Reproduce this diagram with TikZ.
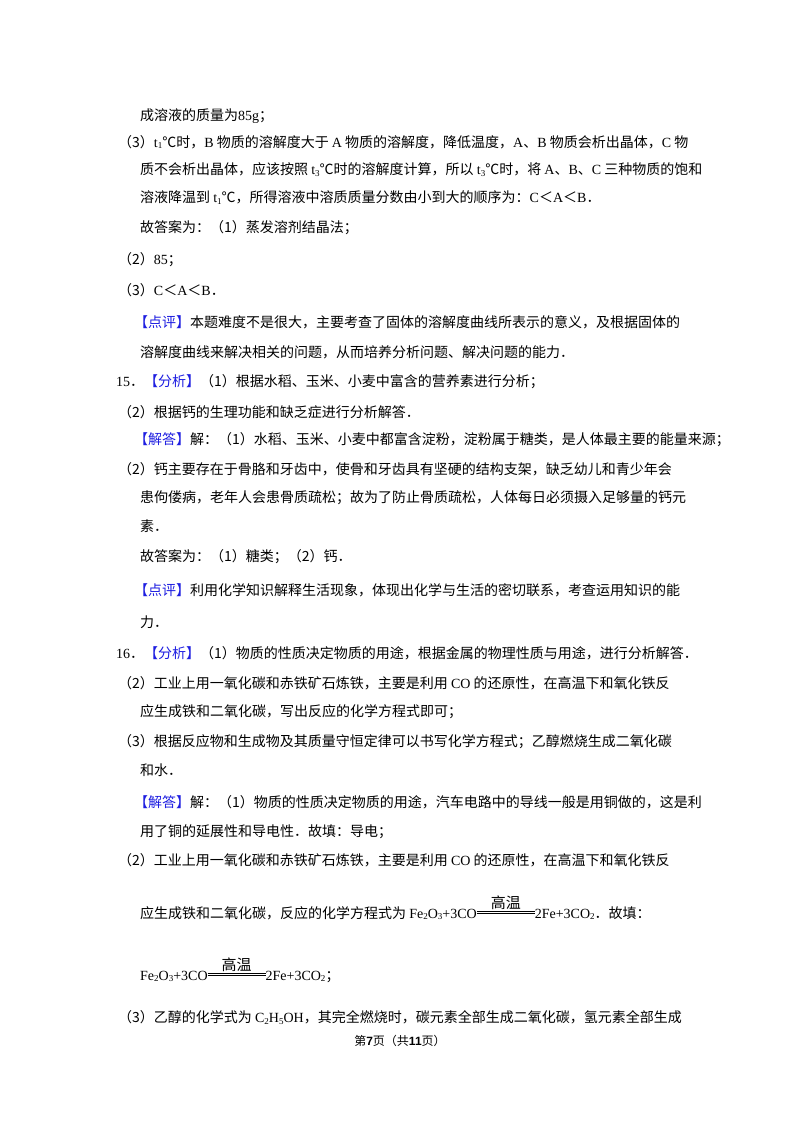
\documentclass[tikz,border=0pt]{standalone}
\usepackage{fontspec}
\setmainfont{Noto Sans CJK SC}
\newfontfamily\enf{Liberation Serif}
\newfontfamily\ftf{Liberation Sans}
\newcommand\en[1]{{\enf #1}}
\newcommand\sub[1]{\raisebox{-0.3ex}{\fontsize{9}{9}\selectfont #1}}
\definecolor{kb}{RGB}{30,30,225}
\newcommand\kw[1]{\textcolor{kb}{#1}}
\newcommand\gw{\raisebox{0.28em}{\vbox{\hbox to 58pt{\hss{\fontsize{15}{15}\selectfont 高温}\hss}\kern1.5pt\hrule height .7pt width 58pt\kern1.3pt\hrule height .7pt width 58pt}}}
\newcommand\feo{\en{Fe\sub2O\sub3+3CO}\gw\en{2Fe+3CO\sub2}}
\begin{document}
\begin{tikzpicture}[x=1pt,y=-1pt,
  ln/.style={anchor=west,inner sep=0pt,font=\fontsize{14}{14}\selectfont}]
\useasboundingbox[fill=white] (0,0) rectangle (800,1132);
\node[ln] (l1) at (140,116) {成溶液的质量为\en{85g}；};
\node[ln] (l2) at (118,142) {（3）\en{t\sub1}℃时，\en{B} 物质的溶解度大于 \en{A} 物质的溶解度，降低温度，\en{A}、\en{B} 物质会析出晶体，\en{C} 物};
\node[ln] (l3) at (140,170) {质不会析出晶体，应该按照 \en{t\sub3}℃时的溶解度计算，所以 \en{t\sub3}℃时，将 \en{A}、\en{B}、\en{C} 三种物质的饱和};
\node[ln] (l4) at (140,198) {溶液降温到 \en{t\sub1}℃，所得溶液中溶质质量分数由小到大的顺序为：\en{C}＜\en{A}＜\en{B}．};
\node[ln] (l5) at (140,228) {故答案为：（1）蒸发溶剂结晶法；};
\node[ln] (l6) at (118,260) {（2）\en{85}；};
\node[ln] (l7) at (118,290) {（3）\en{C}＜\en{A}＜\en{B}．};
\node[ln] (l8) at (134,322) {\kw{【点评】}本题难度不是很大，主要考查了固体的溶解度曲线所表示的意义，及根据固体的};
\node[ln] (l9) at (140,352) {溶解度曲线来解决相关的问题，从而培养分析问题、解决问题的能力．};
\node[ln] (l10) at (116,382) {\en{15}．\kw{【分析】}（1）根据水稻、玉米、小麦中富含的营养素进行分析；};
\node[ln] (l11) at (118,412) {（2）根据钙的生理功能和缺乏症进行分析解答．};
\node[ln] (l12) at (134,440) {\kw{【解答】}解：（1）水稻、玉米、小麦中都富含淀粉，淀粉属于糖类，是人体最主要的能量来源；};
\node[ln] (l13) at (118,469) {（2）钙主要存在于骨胳和牙齿中，使骨和牙齿具有坚硬的结构支架，缺乏幼儿和青少年会};
\node[ln] (l14) at (140,498) {患佝偻病，老年人会患骨质疏松；故为了防止骨质疏松，人体每日必须摄入足够量的钙元};
\node[ln] (l15) at (140,526) {素．};
\node[ln] (l16) at (140,557) {故答案为：（1）糖类；（2）钙．};
\node[ln] (l17) at (134,590) {\kw{【点评】}利用化学知识解释生活现象，体现出化学与生活的密切联系，考查运用知识的能};
\node[ln] (l18) at (140,622) {力．};
\node[ln] (l19) at (116,653) {\en{16}．\kw{【分析】}（1）物质的性质决定物质的用途，根据金属的物理性质与用途，进行分析解答．};
\node[ln] (l20) at (118,683) {（2）工业上用一氧化碳和赤铁矿石炼铁，主要是利用 \en{CO} 的还原性，在高温下和氧化铁反};
\node[ln] (l21) at (140,712) {应生成铁和二氧化碳，写出反应的化学方程式即可；};
\node[ln] (l22) at (118,742) {（3）根据反应物和生成物及其质量守恒定律可以书写化学方程式；乙醇燃烧生成二氧化碳};
\node[ln] (l23) at (140,770) {和水．};
\node[ln] (l24) at (134,802) {\kw{【解答】}解：（1）物质的性质决定物质的用途，汽车电路中的导线一般是用铜做的，这是利};
\node[ln] (l25) at (140,832) {用了铜的延展性和导电性．故填：导电；};
\node[ln] (l26) at (118,860) {（2）工业上用一氧化碳和赤铁矿石炼铁，主要是利用 \en{CO} 的还原性，在高温下和氧化铁反};
\node[ln,anchor=base west] (l27) at (140,918) {应生成铁和二氧化碳，反应的化学方程式为 \feo．故填：};
\node[ln,anchor=base west] (l28) at (140,980) {\feo；};
\node[ln] (l29) at (118,1018) {（3）乙醇的化学式为 \en{C\sub2H\sub5OH}，其完全燃烧时，碳元素全部生成二氧化碳，氢元素全部生成};
\node[inner sep=0pt,font=\fontsize{12}{12}\selectfont] (ft) at (400,1041) {第{\ftf\bfseries 7}页（共{\ftf\bfseries 11}页）};
\end{tikzpicture}
\end{document}
